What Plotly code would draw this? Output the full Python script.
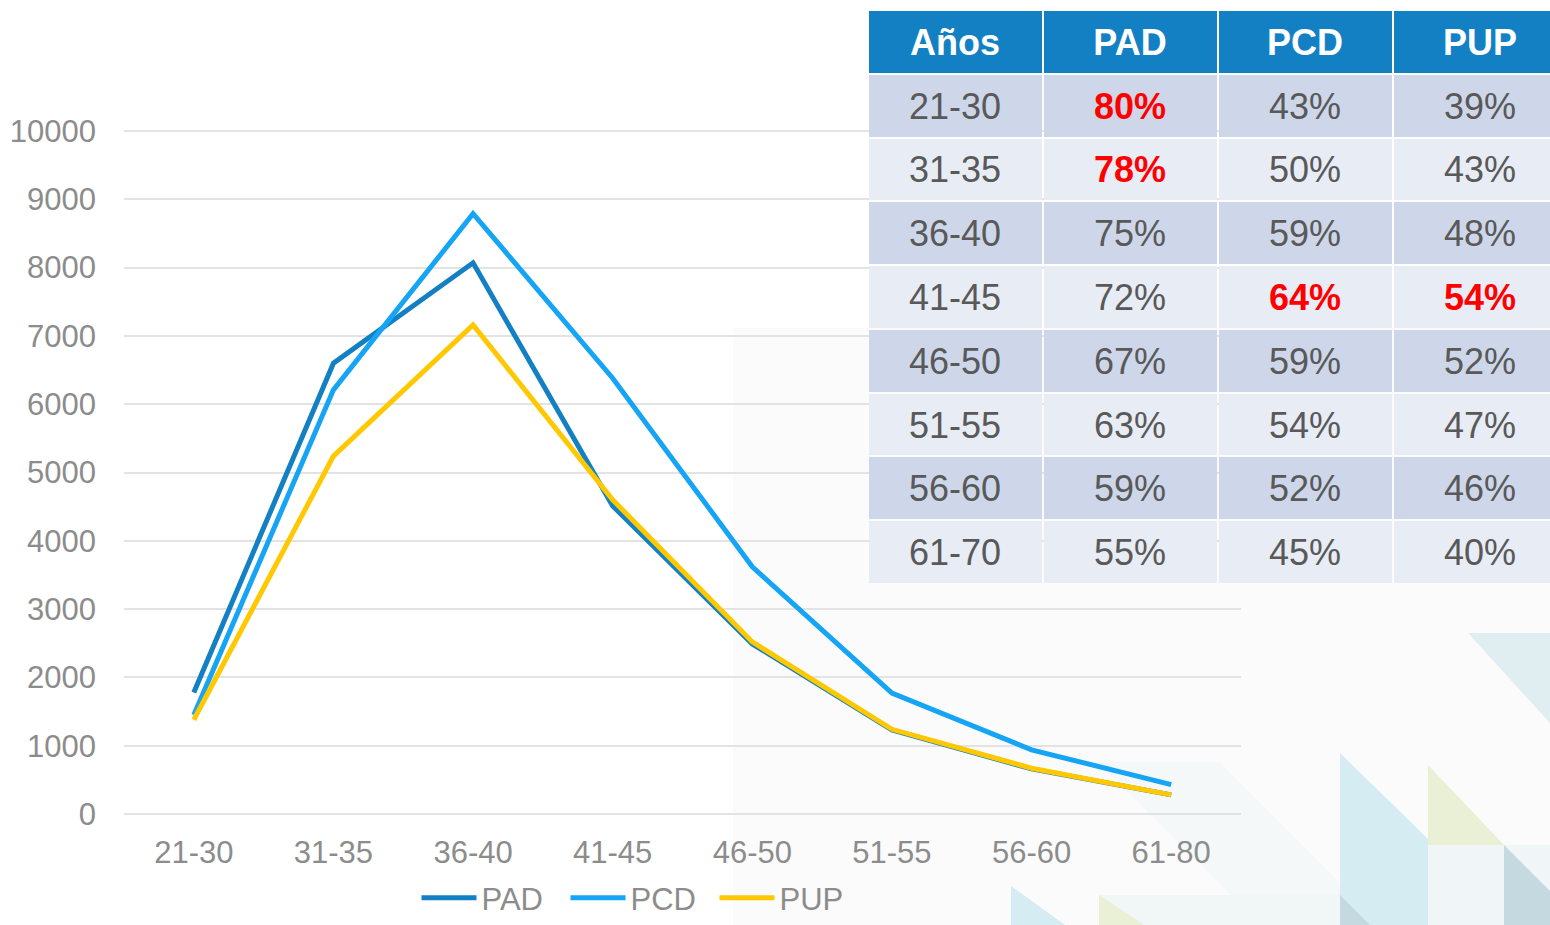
import plotly.graph_objects as go

# Chart data
age_groups = ["21-30", "31-35", "36-40", "41-45", "46-50", "51-55", "56-60", "61-80"]
pad = [1780, 6600, 8070, 4510, 2490, 1230, 660, 280]
pcd = [1450, 6210, 8790, 6380, 3620, 1770, 940, 430]
pup = [1380, 5240, 7160, 4600, 2520, 1240, 670, 280]

# Table data
table_header = ["Años", "PAD", "PCD", "PUP"]
table_years = ["21-30", "31-35", "36-40", "41-45", "46-50", "51-55", "56-60", "61-70"]
table_pad = ["80%", "78%", "75%", "72%", "67%", "63%", "59%", "55%"]
table_pcd = ["43%", "50%", "59%", "64%", "59%", "54%", "52%", "45%"]
table_pup = ["39%", "43%", "48%", "54%", "52%", "47%", "46%", "40%"]
hl_pad = [0, 1]
hl_pcd = [3]
hl_pup = [3]

W, H = 1550, 925
FONT = "Liberation Sans, Arial, sans-serif"
GREY = "#8C8C8C"
TXT = "#595959"

# y axis: 0 sits at 814px, 10000 at 131px; pad the range a little so
# plotly keeps the gridlines at 0 and 10000
Y_LO, Y_HI = -25, 10025
ppu = (814 - 131) / 10000
y_dom_bottom = 814 + (0 - Y_LO) * ppu
y_dom_top = 131 - (Y_HI - 10000) * ppu


def px(x, y):
    return x / W, 1 - y / H


def fmt(v, red):
    if red:
        return f"<span style='color:#FF0000'><b>{v}</b></span>"
    return v


fig = go.Figure()

series = [("PAD", pad, "#1380C4"), ("PCD", pcd, "#16A4F5"), ("PUP", pup, "#FFC800")]
for name, vals, color in series:
    fig.add_trace(go.Scatter(
        x=age_groups, y=vals, name=name, mode="lines",
        line=dict(color=color, width=5),
        hoverinfo="skip",
    ))

# Table drawn as a heatmap on its own axes
row_labels = ["hdr"] + table_years
z = [[2] * 4] + [[i % 2] * 4 for i in range(len(table_years))]
text = [[f"<span style='color:white'><b>{h}</b></span>" for h in table_header]]
for i, yr in enumerate(table_years):
    text.append([
        yr,
        fmt(table_pad[i], i in hl_pad),
        fmt(table_pcd[i], i in hl_pcd),
        fmt(table_pup[i], i in hl_pup),
    ])

fig.add_trace(go.Heatmap(
    x=table_header, y=row_labels, z=z, text=text,
    texttemplate="%{text}",
    textfont=dict(family=FONT, size=36, color=TXT),
    colorscale=[[0, "#CDD7E9"], [0.5, "#E8ECF5"], [1, "#1380C4"]],
    zmin=0, zmax=2, showscale=False,
    xgap=2, ygap=2,
    xaxis="x2", yaxis="y2",
    hoverinfo="skip",
    showlegend=False,
))

# Decorative background shapes
shapes = [dict(type="rect", xref="x2 domain", yref="y2 domain",
               x0=0, x1=1, y0=0, y1=1, fillcolor="white",
               line=dict(width=0), layer="below")]


def poly(points, color):
    pts = [px(x, y) for x, y in points]
    path = "M " + " L ".join(f"{a},{b}" for a, b in pts) + " Z"
    shapes.append(dict(type="path", path=path, xref="paper", yref="paper",
                       fillcolor=color, line=dict(width=0), layer="below"))


poly([(733, 328), (1550, 328), (1550, 925), (733, 925)], "#FBFBFB")
poly([(1098, 762), (1219, 762), (1382, 925), (1261, 925)], "#F4F8F8")
poly([(1099, 895), (1340, 895), (1340, 925), (1099, 925)], "#F1F6F6")
poly([(1468, 633), (1550, 633), (1550, 723)], "#E0EEF2")
poly([(1340, 753), (1340, 925), (1516, 925)], "#D4ECF2")
poly([(1340, 895), (1370, 925), (1340, 925)], "#C5DAE0")
poly([(1428, 845), (1550, 845), (1550, 925), (1428, 925)], "#F0F6F8")
poly([(1428, 765), (1428, 845), (1504, 845)], "#EAF0D6")
poly([(1504, 845), (1550, 891), (1550, 925), (1504, 925)], "#C5DAE0")
poly([(1011, 886), (1011, 925), (1065, 925)], "#D4ECF2")
poly([(1099, 895), (1099, 925), (1144, 925)], "#EAF0D6")

fig.update_layout(
    width=W, height=H,
    margin=dict(l=0, r=0, t=0, b=0),
    paper_bgcolor="white",
    plot_bgcolor="rgba(0,0,0,0)",
    font=dict(family=FONT, color=GREY, size=31),
    shapes=shapes,
    xaxis=dict(
        domain=[124 / W, 1241 / W],
        range=[-0.5, 7.5],
        showgrid=False, zeroline=False, showline=False,
        ticks="", ticklabelstandoff=15,
        tickfont=dict(size=31, color=GREY),
        automargin=False,
    ),
    yaxis=dict(
        domain=[1 - y_dom_bottom / H, 1 - y_dom_top / H],
        range=[Y_LO, Y_HI], tickvals=list(range(0, 10001, 1000)),
        tickformat="d",
        showgrid=True, gridcolor="#E3E3E3", gridwidth=2,
        zeroline=False, showline=False,
        ticks="", ticklabelstandoff=27,
        tickfont=dict(size=31, color=GREY),
        automargin=False,
    ),
    xaxis2=dict(
        domain=[868 / W, 1],
        range=[-0.5, 3.4],
        anchor="y2", showgrid=False, zeroline=False,
        showticklabels=False, ticks="", fixedrange=True,
    ),
    yaxis2=dict(
        domain=[1 - 584 / H, 1 - 10 / H],
        autorange="reversed",
        anchor="x2", showgrid=False, zeroline=False,
        showticklabels=False, ticks="", fixedrange=True,
    ),
    legend=dict(
        orientation="h",
        x=640 / W, xanchor="center",
        y=0, yanchor="bottom",
        font=dict(size=31, color=GREY),
        bgcolor="rgba(0,0,0,0)",
        itemwidth=55,
        entrywidth=79,
    ),
)

fig.write_html("out.html", config={"displayModeBar": False},
               post_script="document.body.style.margin='0';")
